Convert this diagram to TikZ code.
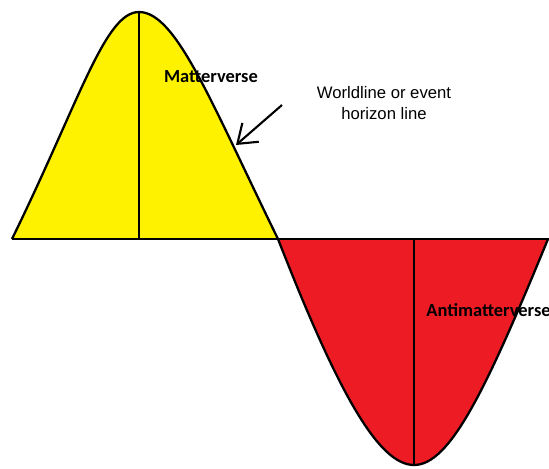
\documentclass[tikz,border=0pt]{standalone}
\usepackage{fontspec}
\setmainfont{Carlito}
\newfontfamily\notefont{Liberation Sans}
\usetikzlibrary{arrows.meta, positioning}
\definecolor{matteryellow}{RGB}{255,242,0}
\definecolor{antired}{RGB}{237,28,36}

\begin{document}
\begin{tikzpicture}[
    x=0.02cm, y=-0.02cm,
    curve/.style={draw=black, line width=1.3pt},
    axisline/.style={draw=black, line width=1.6pt},
    versename/.style={font=\bfseries\fontsize{10.5}{12}\selectfont, inner sep=0pt},
    note/.style={font=\notefont\fontsize{9.5}{12}\selectfont, align=center, inner sep=0pt},
    arrow/.style={-{Straight Barb[length=3.5mm, width=5mm]}, line width=1.2pt}
]
\useasboundingbox (0,0) rectangle (549,468);

\coordinate (lbase) at (12,239);
\coordinate (peak) at (139,12);
\coordinate (mid) at (278,239);
\coordinate (trough) at (414,465);
\coordinate (rbase) at (548,239);
\coordinate (axisend) at (549,239);
\coordinate (peakfoot) at (139,239);
\coordinate (troughtop) at (414,239);
\coordinate (tail) at (282,105);
\coordinate (tip) at (236,145);

% the two halves
\fill[matteryellow] (lbase) .. controls (80,100) and (105,12) .. (peak)
    .. controls (176,12) and (210,100) .. (mid) -- cycle;
\fill[antired] (mid) .. controls (337,390) and (378,465) .. (trough)
    .. controls (450,465) and (486,390) .. (rbase) -- cycle;

\draw[curve] (lbase) .. controls (80,100) and (105,12) .. (peak)
    .. controls (176,12) and (210,100) .. (mid);
\draw[curve] (mid) .. controls (337,390) and (378,465) .. (trough)
    .. controls (450,465) and (486,390) .. (rbase);
\draw[curve] (peak) -- (peakfoot);
\draw[curve] (trough) -- (troughtop);
\draw[axisline] (lbase) -- (axisend);

\node[versename] (matter) at (211,77) {Matterverse};
\node[versename, anchor=west] (antimatter) at (426,310) {Antimatterverse};
\node[note] (worldline) at (384,103) {Worldline or event\\horizon line};

\draw[arrow] (tail) -- (tip);

\end{tikzpicture}
\end{document}
